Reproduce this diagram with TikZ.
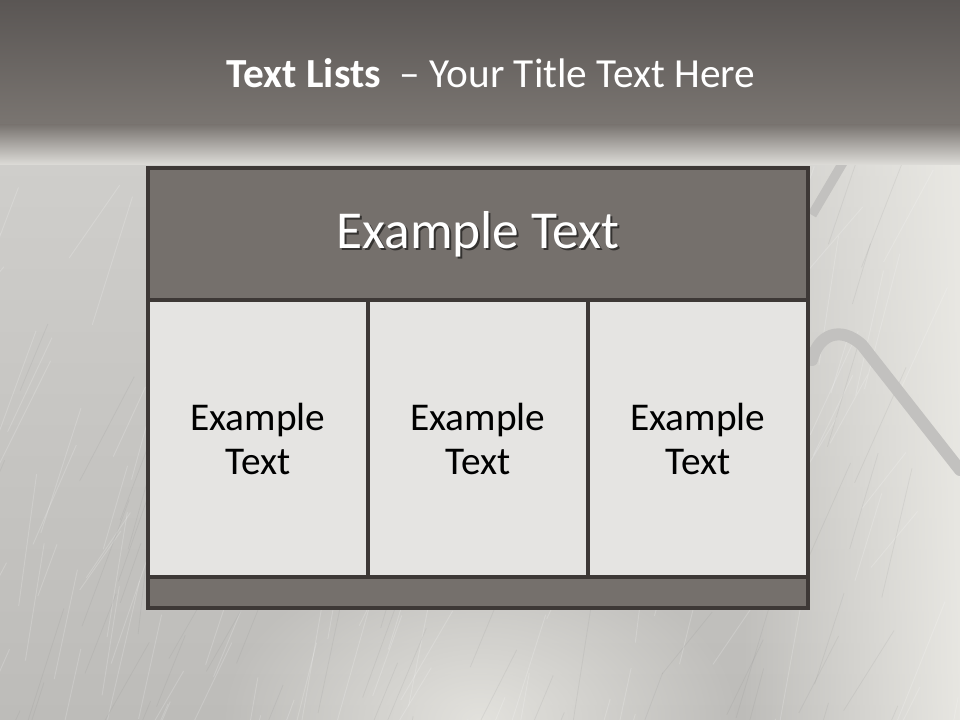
\documentclass[tikz,border=0pt]{standalone}
\usepackage{fontspec}
\setmainfont{Carlito}
\usepackage{tikz}
\usetikzlibrary{fadings}
\definecolor{bandtop}{HTML}{5A5654}
\definecolor{bandlow}{HTML}{7A7571}
\definecolor{photo}{HTML}{CFCECB}
\definecolor{photolt}{HTML}{ECEBE6}
\definecolor{photodk}{HTML}{BDBCB9}
\definecolor{rail}{HTML}{C2C1BF}
\definecolor{boxdark}{HTML}{75706C}
\definecolor{boxlt}{HTML}{E5E4E2}
\definecolor{edge}{HTML}{3D3836}
\tikzfading[name=glowfade,inner color=transparent!0,outer color=transparent!100]
\tikzset{
  hd/.style={draw=edge,line width=2.4pt,fill=boxdark,minimum width=495pt,minimum height=99pt,inner sep=0pt},
  cl/.style={draw=edge,line width=2.4pt,fill=boxlt,minimum width=165pt,minimum height=207.75pt,inner sep=0pt,
    align=center,font=\fontsize{29.5}{33}\selectfont,text=black},
  ft/.style={draw=edge,line width=2.4pt,fill=boxdark,minimum width=495pt,minimum height=23.25pt,inner sep=0pt},
  streak/.style={white,line width=0.7pt,opacity=0.18},
  dstreak/.style={gray,line width=0.6pt,opacity=0.12}
}
\newcommand{\celltxt}{Example\\Text}

\begin{document}
\begin{tikzpicture}[x=0.75pt,y=-0.75pt]
\useasboundingbox (0,0) rectangle (960,720);
% background photo, roughly
\shade[top color=photo,bottom color=photodk] (0,160) rectangle (960,720);
\fill[photolt,path fading=west,opacity=0.9] (740,130) rectangle (960,720);
\fill[photolt,path fading=glowfade,opacity=0.8] (480,720) ellipse (260 and 170);
\pgfmathsetseed{7}
\foreach \i in {1,...,140}{
  \pgfmathsetmacro{\sx}{rnd*960}
  \pgfmathsetmacro{\sy}{160+rnd*560}
  \draw[streak] (\sx,\sy) -- ++(-15-rnd*40,50+rnd*90);
}
\foreach \i in {1,...,90}{
  \pgfmathsetmacro{\sx}{rnd*960}
  \pgfmathsetmacro{\sy}{160+rnd*560}
  \draw[dstreak] (\sx,\sy) -- ++(-15-rnd*40,50+rnd*90);
}
\draw[rail,line width=7pt] (868,120) -- (812,215);
\draw[rail,line width=9pt,line cap=round] (812,360) .. controls (818,335) and (840,325) .. (862,345) -- (960,470);
\fill[bottom color=bandlow,top color=bandtop] (0,0) rectangle (960,125);
\fill[top color=bandlow,bottom color=photo!50!photolt] (0,125) rectangle (960,165);
% title
\node[text=white,font=\fontsize{31}{36}\selectfont,anchor=base] (title) at (491,88)
  {\textbf{Text Lists}\ \ – Your Title Text Here};
% table
\node[hd] (head) at (478,234) {};
\node[text=black,opacity=0.55,font=\fontsize{40}{46}\selectfont] (headsh) at ([xshift=1.5pt,yshift=-1.5pt]head.center) {Example Text};
\node[text=white,font=\fontsize{40}{46}\selectfont] (headtx) at (head.center) {Example Text};
\node[cl] (c1) at (258,438.5) {\celltxt};
\node[cl] (c2) at (478,438.5) {\celltxt};
\node[cl] (c3) at (698,438.5) {\celltxt};
\node[ft] (foot) at (478,592.5) {};
\end{tikzpicture}
\end{document}
